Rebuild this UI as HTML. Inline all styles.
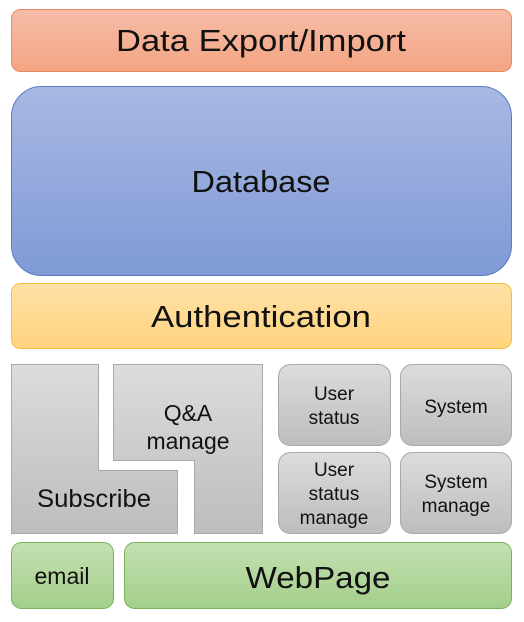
<!DOCTYPE html>
<html><head><style>
body{margin:0;width:524px;height:617px;background:#fff;overflow:hidden}
svg text{font-family:"Liberation Sans",sans-serif;fill:#111;text-anchor:middle}
</style></head><body>
<svg width="524" height="617" xmlns="http://www.w3.org/2000/svg">
<defs>
<linearGradient id="o" x1="0" y1="0" x2="0" y2="1"><stop offset="0" stop-color="#f6bca8"/><stop offset="1" stop-color="#f4a583"/></linearGradient>
<linearGradient id="b" x1="0" y1="0" x2="0" y2="1"><stop offset="0" stop-color="#a9b8e3"/><stop offset="1" stop-color="#7f9ad6"/></linearGradient>
<linearGradient id="y" x1="0" y1="0" x2="0" y2="1"><stop offset="0" stop-color="#ffe0a6"/><stop offset="1" stop-color="#ffd47f"/></linearGradient>
<linearGradient id="g" x1="0" y1="0" x2="0" y2="1"><stop offset="0" stop-color="#dcdcdc"/><stop offset="1" stop-color="#bdbdbd"/></linearGradient>
<linearGradient id="gr" x1="0" y1="0" x2="0" y2="1"><stop offset="0" stop-color="#c4e0b2"/><stop offset="1" stop-color="#a3cf8a"/></linearGradient>
</defs>
<rect x="11.5" y="9.5" width="500" height="62" rx="9" fill="url(#o)" stroke="#ea8a5f"/>
<text x="261" y="51" font-size="31" textLength="290" lengthAdjust="spacingAndGlyphs">Data Export/Import</text>
<rect x="11.5" y="86.5" width="500" height="189" rx="30" fill="url(#b)" stroke="#5b7bc6"/>
<text x="261" y="192" font-size="31" textLength="139" lengthAdjust="spacingAndGlyphs">Database</text>
<rect x="11.5" y="283.5" width="500" height="65" rx="9" fill="url(#y)" stroke="#f3c13a"/>
<text x="261" y="327" font-size="31" textLength="220" lengthAdjust="spacingAndGlyphs">Authentication</text>
<path d="M11.5 364.5H98.5V470.5H177.5V533.5H11.5Z" fill="url(#g)" stroke="#a8a8a8"/>
<text x="94" y="507" font-size="25" textLength="114" lengthAdjust="spacingAndGlyphs">Subscribe</text>
<path d="M113.5 364.5H262.5V533.5H194.5V460.5H113.5Z" fill="url(#g)" stroke="#a8a8a8"/>
<text x="188" y="421" font-size="23">Q&amp;A</text>
<text x="188" y="449" font-size="23">manage</text>
<rect x="278.5" y="364.5" width="112" height="81" rx="12" fill="url(#g)" stroke="#a8a8a8"/>
<text x="334" y="400" font-size="19">User</text>
<text x="334" y="424" font-size="19">status</text>
<rect x="400.5" y="364.5" width="111" height="81" rx="12" fill="url(#g)" stroke="#a8a8a8"/>
<text x="456" y="413" font-size="19">System</text>
<rect x="278.5" y="452.5" width="112" height="81" rx="12" fill="url(#g)" stroke="#a8a8a8"/>
<text x="334" y="476" font-size="19">User</text>
<text x="334" y="500" font-size="19">status</text>
<text x="334" y="524" font-size="19">manage</text>
<rect x="400.5" y="452.5" width="111" height="81" rx="12" fill="url(#g)" stroke="#a8a8a8"/>
<text x="456" y="488" font-size="19">System</text>
<text x="456" y="512" font-size="19">manage</text>
<rect x="11.5" y="542.5" width="102" height="66" rx="10" fill="url(#gr)" stroke="#78b35a"/>
<text x="62" y="584" font-size="23">email</text>
<rect x="124.5" y="542.5" width="387" height="66" rx="10" fill="url(#gr)" stroke="#78b35a"/>
<text x="318" y="588" font-size="31" textLength="145" lengthAdjust="spacingAndGlyphs">WebPage</text>
</svg>
</body></html>
